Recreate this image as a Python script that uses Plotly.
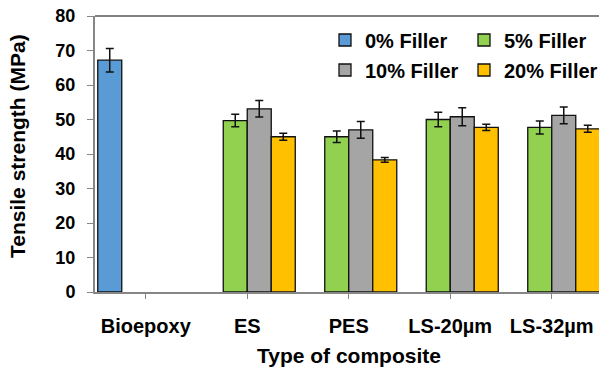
import plotly.graph_objects as go

categories = ["Bioepoxy", "ES", "PES", "LS-20µm", "LS-32µm"]
series_names = ["0% Filler", "5% Filler", "10% Filler", "20% Filler"]
filler_0 = [67.2, None, None, None, None]
filler_5 = [None, 49.7, 45.0, 50.0, 47.7]
filler_10 = [None, 53.1, 47.0, 50.8, 51.2]
filler_20 = [None, 45.0, 38.3, 47.7, 47.3]
err_0 = [3.4, 0, 0, 0, 0]
err_5 = [0, 1.8, 1.7, 2.1, 1.9]
err_10 = [0, 2.4, 2.4, 2.6, 2.4]
err_20 = [0, 1.0, 0.7, 0.9, 1.0]

colors = ["#5B9BD5", "#92D050", "#A5A5A5", "#FFC000"]
values = [filler_0, filler_5, filler_10, filler_20]
errors = [err_0, err_5, err_10, err_20]
legends = ["legend", "legend", "legend2", "legend2"]

FONT = "Liberation Sans, Arial, sans-serif"

fig = go.Figure()
for name, vals, errs, col, lg in zip(series_names, values, errors, colors, legends):
    fig.add_trace(go.Bar(
        x=categories, y=vals, name=name, legend=lg,
        marker=dict(color=col, line=dict(color="#111111", width=1.3)),
        error_y=dict(type="data", array=errs, visible=True, color="#111111",
                     thickness=1.5, width=4),
    ))

W, H = 599, 369
L, R, T, B = 95, 0, 16, 77
pw = W - L - R
ph = H - T - B

def px_x(x):
    return (x - L) / pw

def px_y(y):
    return (H - B - y) / ph

leg_common = dict(orientation="h", xanchor="right", yanchor="middle",
                  entrywidth=94, entrywidthmode="pixels",
                  font=dict(size=20, family=FONT, weight="bold"),
                  bgcolor="rgba(0,0,0,0)", borderwidth=0)

fig.update_layout(
    width=W, height=H,
    margin=dict(l=L, r=R, t=T, b=B, autoexpand=False),
    paper_bgcolor="white", plot_bgcolor="white",
    barmode="group", bargap=0.054, bargroupgap=0,
    font=dict(family=FONT, color="#000000", weight="bold"),
    legend=dict(x=1 + 4 / pw, y=px_y(40), **leg_common),
    legend2=dict(x=1 + 4 / pw, y=px_y(70), **leg_common),
    showlegend=True,
    xaxis=dict(
        range=[-0.5, -0.5 + pw / 101.5],
        showline=True, linecolor="#868686", linewidth=2,
        ticks="outside", ticklen=5, tickcolor="#868686", tickwidth=1,
        tickfont=dict(size=20, family=FONT, weight="bold"),
        ticklabelstandoff=10,
        showgrid=False, zeroline=False, automargin=False,
    ),
    yaxis=dict(
        range=[0, 80], dtick=10,
        showline=True, linecolor="#868686", linewidth=2,
        ticks="outside", ticklen=6, tickcolor="#868686", tickwidth=1,
        tickfont=dict(size=18, family=FONT, weight="bold"),
        ticklabelstandoff=8,
        showgrid=False, zeroline=False, automargin=False,
    ),
    shapes=[dict(type="line", xref="paper", yref="paper", x0=0, x1=1, y0=1, y1=1,
                 line=dict(color="#595959", width=1.5))],
    annotations=[
        dict(text="Type of composite", xref="paper", yref="paper", x=px_x(348.5), y=px_y(355),
             xanchor="center", yanchor="middle", showarrow=False,
             font=dict(size=21, family=FONT, weight="bold")),
        dict(text="Tensile strength (MPa)", xref="paper", yref="paper", x=px_x(17), y=px_y(146),
             xanchor="center", yanchor="middle", showarrow=False, textangle=-90,
             font=dict(size=21, family=FONT, weight="bold")),
    ],
)

fig.write_html("out.html", config={"displayModeBar": False},
               post_script="document.body.style.margin='0';document.body.style.overflow='hidden';")
